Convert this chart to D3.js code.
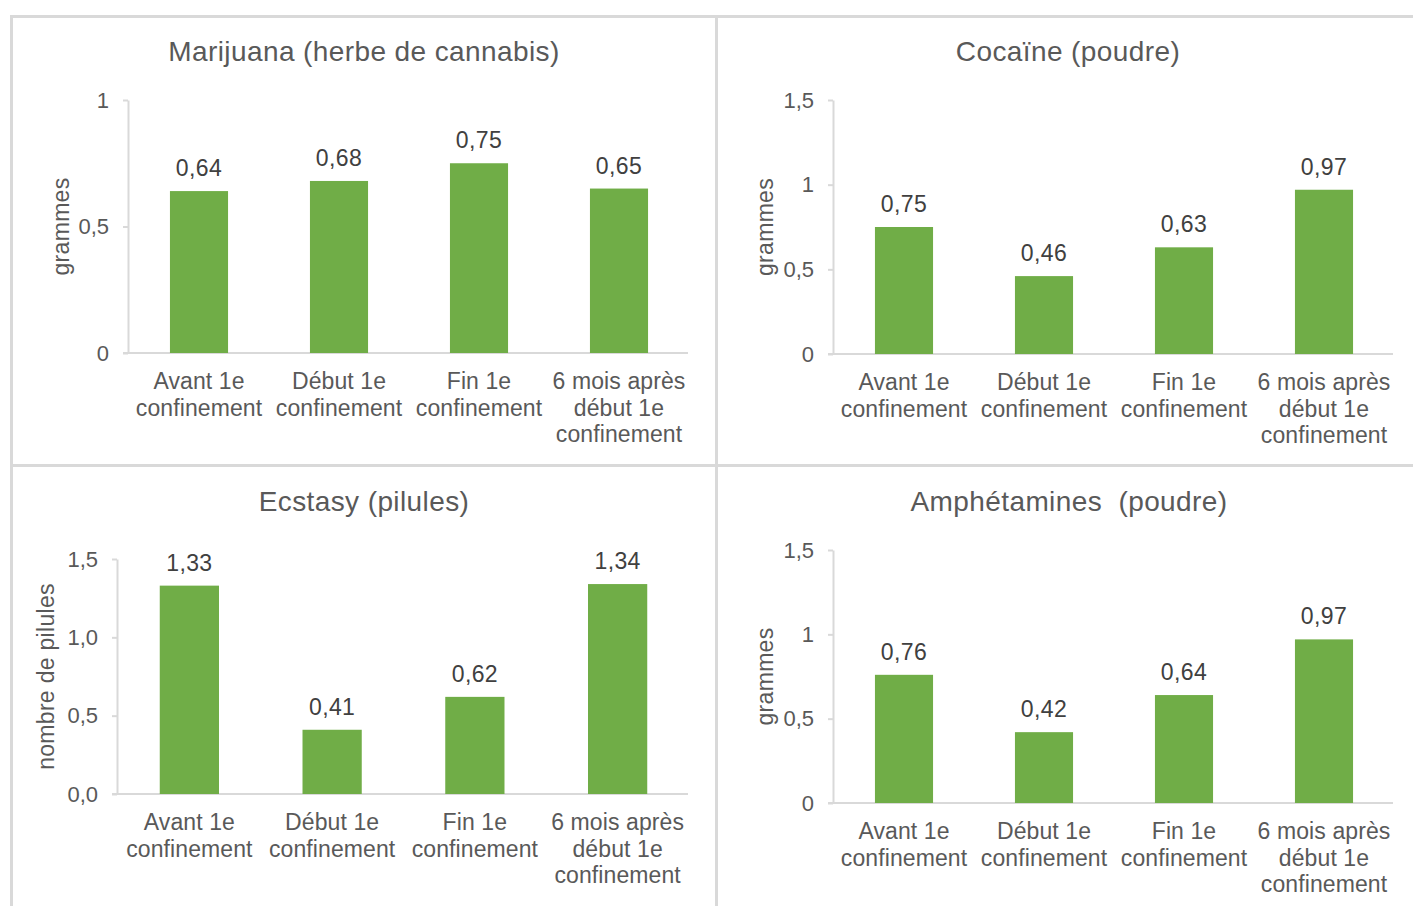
<!DOCTYPE html>
<html>
<head>
<meta charset="utf-8">
<script src="https://cdn.jsdelivr.net/npm/d3@7"></script>
<style>
    body { margin: 0; background: #fff; }
    svg text { font-family: "Liberation Sans", Arial, sans-serif; }
</style>
</head>
<body>
<div id="chart-area"></div>
<script>

// categories (same for all 4 charts)
var categories = [
    ["Avant 1e", "confinement"],
    ["Début 1e", "confinement"],
    ["Fin 1e", "confinement"],
    ["6 mois après", "début 1e", "confinement"]
];

// titles + y axis labels
var titles = ["Marijuana (herbe de cannabis)", "Cocaïne (poudre)", "Ecstasy (pilules)", "Amphétamines\u00a0 (poudre)"];
var yLabels = ["grammes", "grammes", "nombre de pilules", "grammes"];

// values per chart
var marijuanaValues = [0.64, 0.68, 0.75, 0.65];
var cocaineValues = [0.75, 0.46, 0.63, 0.97];
var ecstasyValues = [1.33, 0.41, 0.62, 1.34];
var amphetValues = [0.76, 0.42, 0.64, 0.97];

// y ticks
var marijuanaTicks = [0, 0.5, 1];
var marijuanaTickLabels = ["0", "0,5", "1"];
var cocaineTicks = [0, 0.5, 1, 1.5];
var cocaineTickLabels = ["0", "0,5", "1", "1,5"];
var ecstasyTicks = [0, 0.5, 1, 1.5];
var ecstasyTickLabels = ["0,0", "0,5", "1,0", "1,5"];
var amphetTicks = [0, 0.5, 1, 1.5];
var amphetTickLabels = ["0", "0,5", "1", "1,5"];


var width = 1413, height = 906;
var gridColor = "#d9d9d9";
var textColor = "#595959";
var barColor = "#70ad47";

var svg = d3.select("#chart-area")
    .append("svg")
    .attr("width", width)
    .attr("height", height);

// panel frame lines
var frame = svg.append("g").attr("stroke", gridColor).attr("stroke-width", 3);
frame.append("line").attr("x1", 10).attr("x2", width).attr("y1", 16.5).attr("y2", 16.5);
frame.append("line").attr("x1", 10).attr("x2", width).attr("y1", 465.5).attr("y2", 465.5);
frame.append("line").attr("x1", 11.5).attr("x2", 11.5).attr("y1", 15).attr("y2", height);
frame.append("line").attr("x1", 716.5).attr("x2", 716.5).attr("y1", 15).attr("y2", height);


/*
 *  BarPanel - one small bar chart
 */
BarPanel = function(_opts) {
    this.opts = _opts;
    this.initVis();
}

BarPanel.prototype.initVis = function() {
    var vis = this;
    var o = vis.opts;

    vis.g = svg.append("g");

    vis.x = d3.scaleBand()
        .domain(d3.range(categories.length))
        .range([o.left + 1, o.right + 1])
        .paddingInner(0.585)
        .paddingOuter(0.2925);

    vis.y = d3.scaleLinear()
        .domain([0, o.max])
        .range([o.bottom, o.top]);

    vis.updateVis();
}

BarPanel.prototype.updateVis = function() {
    var vis = this;
    var o = vis.opts;

    // title
    vis.g.append("text")
        .attr("x", o.titleX)
        .attr("y", o.titleY)
        .attr("text-anchor", "middle")
        .attr("fill", textColor)
        .style("font-size", "28px")
        .style("letter-spacing", "0.4px")
        .text(o.title);

    // y axis
    var yAxis = d3.axisLeft(vis.y)
        .tickValues(o.ticks)
        .tickFormat(function(d, i) { return o.tickLabels[i]; })
        .tickSizeInner(5)
        .tickSizeOuter(0)
        .tickPadding(14);

    var ya = vis.g.append("g")
        .attr("transform", "translate(" + o.left + ",0)")
        .call(yAxis);
    ya.select(".domain").attr("stroke", gridColor).attr("stroke-width", 2);
    ya.selectAll(".tick line").attr("stroke", gridColor).attr("stroke-width", 2);
    ya.selectAll(".tick text")
        .attr("fill", textColor)
        .style("font-size", "22px");

    // x axis baseline
    vis.g.append("line")
        .attr("x1", o.left - 5)
        .attr("x2", o.right)
        .attr("y1", vis.y(0))
        .attr("y2", vis.y(0))
        .attr("stroke", gridColor)
        .attr("stroke-width", 2);

    // y label
    vis.g.append("text")
        .attr("transform", "translate(" + o.yLabelX + "," + ((o.top + o.bottom) / 2) + ") rotate(-90)")
        .attr("text-anchor", "middle")
        .attr("dy", "0.35em")
        .attr("fill", textColor)
        .style("font-size", "23px")
        .style("letter-spacing", "0.3px")
        .text(o.yLabel);

    // bars
    vis.g.selectAll("rect.bar")
        .data(o.values)
        .enter()
        .append("rect")
        .attr("class", "bar")
        .attr("x", function(d, i) { return vis.x(i); })
        .attr("width", vis.x.bandwidth())
        .attr("y", function(d) { return vis.y(d); })
        .attr("height", function(d) { return vis.y(0) - vis.y(d); })
        .attr("fill", barColor);

    // value labels
    vis.g.selectAll("text.val")
        .data(o.values)
        .enter()
        .append("text")
        .attr("class", "val")
        .attr("x", function(d, i) { return vis.x(i) + vis.x.bandwidth() / 2; })
        .attr("y", function(d) { return vis.y(d) - 15; })
        .attr("text-anchor", "middle")
        .attr("fill", "#404040")
        .style("font-size", "23px")
        .style("letter-spacing", "0.4px")
        .text(function(d) { return d3.format(".2f")(d).replace(".", ","); });

    // category labels
    var cat = vis.g.selectAll("text.cat")
        .data(categories)
        .enter()
        .append("text")
        .attr("class", "cat")
        .attr("text-anchor", "middle")
        .attr("fill", textColor)
        .style("font-size", "23px")
        .style("letter-spacing", "0.1px");

    cat.each(function(lines, i) {
        var t = d3.select(this);
        lines.forEach(function(l, j) {
            t.append("tspan")
                .attr("x", vis.x(i) + vis.x.bandwidth() / 2)
                .attr("y", vis.y(0) + 36 + j * 26.5)
                .text(l);
        });
    });
}


new BarPanel({ title: titles[0], yLabel: yLabels[0], values: marijuanaValues, ticks: marijuanaTicks, tickLabels: marijuanaTickLabels,
    max: 1, left: 128, right: 688, top: 100, bottom: 353, titleX: 364, titleY: 61, yLabelX: 61 });

new BarPanel({ title: titles[1], yLabel: yLabels[1], values: cocaineValues, ticks: cocaineTicks, tickLabels: cocaineTickLabels,
    max: 1.5, left: 833, right: 1393, top: 100, bottom: 354, titleX: 1068, titleY: 61, yLabelX: 765 });

new BarPanel({ title: titles[2], yLabel: yLabels[2], values: ecstasyValues, ticks: ecstasyTicks, tickLabels: ecstasyTickLabels,
    max: 1.5, left: 117, right: 688, top: 559, bottom: 794, titleX: 364, titleY: 511, yLabelX: 46 });

new BarPanel({ title: titles[3], yLabel: yLabels[3], values: amphetValues, ticks: amphetTicks, tickLabels: amphetTickLabels,
    max: 1.5, left: 833, right: 1393, top: 550, bottom: 803, titleX: 1069, titleY: 511, yLabelX: 765 });

</script>
</body>
</html>
